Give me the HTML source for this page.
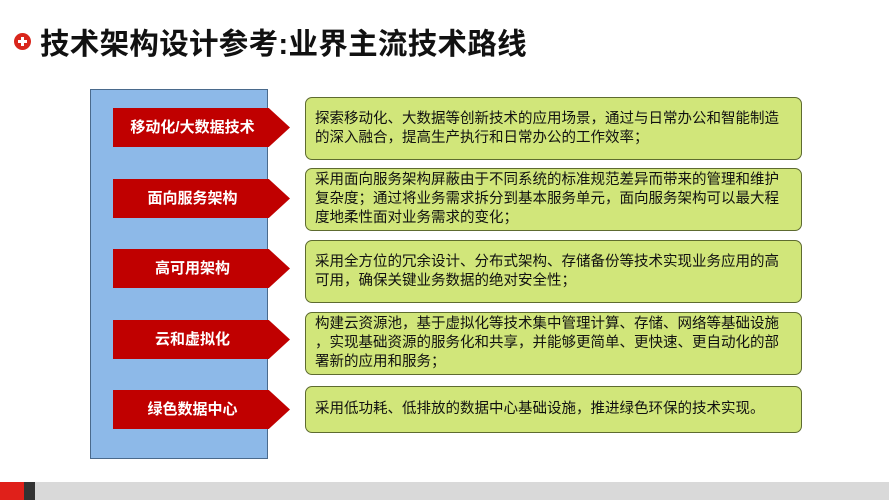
<!DOCTYPE html><html><head><meta charset="utf-8"><style>
body{margin:0;width:889px;height:500px;background:#fff;position:relative;overflow:hidden;font-family:"Liberation Sans","Noto Sans CJK SC",sans-serif}
.t{position:absolute;left:40px;top:21px;font-size:29.5px;font-weight:bold;color:#111;letter-spacing:0.3px;white-space:nowrap}
.ic{position:absolute;left:14px;top:33px;width:17px;height:17px;border-radius:50%;background:#d9261c}
.ic:before{content:"";position:absolute;left:4px;top:7px;width:9px;height:3px;background:#fff}
.ic:after{content:"";position:absolute;left:7px;top:4px;width:3px;height:9px;background:#fff}
.panel{position:absolute;left:90px;top:89px;width:176px;height:368px;background:#8db9e8;border:1px solid #4a6a8c}
.ar{position:absolute;left:113px;width:177px;height:39px;background:#c00000;clip-path:polygon(0 0,88% 0,100% 50%,88% 100%,0 100%);color:#fff;font-weight:bold;font-size:15px;line-height:39px;text-align:center;padding-right:18px;box-sizing:border-box}
.g{position:absolute;left:305px;width:497px;background:#d1e67a;border:1px solid #5e6b30;border-radius:7px;box-sizing:border-box;padding:0 6px 0 9px;font-size:14.5px;letter-spacing:0px;line-height:19px;color:#111;display:flex;align-items:center;white-space:nowrap}
.bar{position:absolute;left:0;top:482px;width:889px;height:18px;background:#d9d9d9}
</style></head><body>
<div class="ic"></div><div class="t">技术架构设计参考:业界主流技术路线</div>
<div class="panel"></div>
<div class="ar" style="top:108px">移动化/大数据技术</div>
<div class="ar" style="top:179px">面向服务架构</div>
<div class="ar" style="top:249px">高可用架构</div>
<div class="ar" style="top:320px">云和虚拟化</div>
<div class="ar" style="top:390px">绿色数据中心</div>
<div class="g" style="top:97px;height:63px">探索移动化、大数据等创新技术的应用场景，通过与日常办公和智能制造<br>的深入融合，提高生产执行和日常办公的工作效率；</div>
<div class="g" style="top:168px;height:63px">采用面向服务架构屏蔽由于不同系统的标准规范差异而带来的管理和维护<br>复杂度；通过将业务需求拆分到基本服务单元，面向服务架构可以最大程<br>度地柔性面对业务需求的变化；</div>
<div class="g" style="top:240px;height:63px">采用全方位的冗余设计、分布式架构、存储备份等技术实现业务应用的高<br>可用，确保关键业务数据的绝对安全性；</div>
<div class="g" style="top:312px;height:63px">构建云资源池，基于虚拟化等技术集中管理计算、存储、网络等基础设施<br>，实现基础资源的服务化和共享，并能够更简单、更快速、更自动化的部<br>署新的应用和服务；</div>
<div class="g" style="top:386px;height:47px">采用低功耗、低排放的数据中心基础设施，推进绿色环保的技术实现。</div>
<div class="bar"></div>
<div style="position:absolute;left:0;top:482px;width:24px;height:18px;background:#e0201a"></div>
<div style="position:absolute;left:24px;top:482px;width:11px;height:18px;background:#333"></div>
</body></html>
